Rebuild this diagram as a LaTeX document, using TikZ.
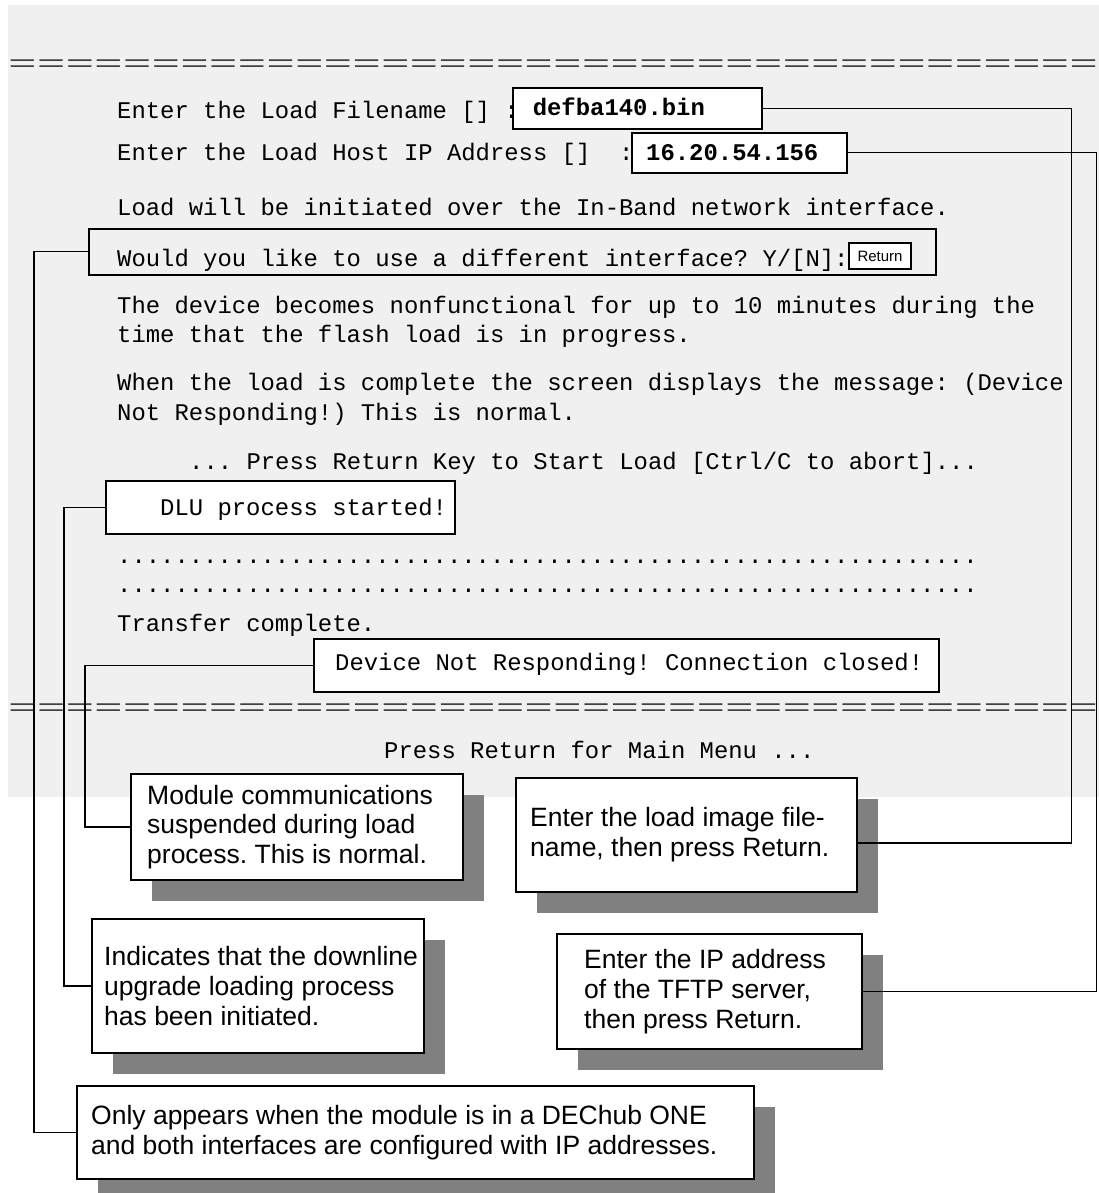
\documentclass[tikz,border=0pt]{standalone}
\usepackage{fontspec}
\usepackage{tikz}
\usetikzlibrary{positioning}
\usetikzlibrary{shadows}

\newfontfamily\termfont{Liberation Mono}
\newfontfamily\termeqfont[FakeStretch=2]{Liberation Mono}
\newfontfamily\notefont{Liberation Sans}
\definecolor{screengray}{HTML}{F0F0F0}
\definecolor{shadowgray}{HTML}{808080}
\frenchspacing

\begin{document}
\begin{tikzpicture}[x=1pt,y=-1pt,
    term/.style={anchor=base west,inner sep=0pt,font=\termfont\fontsize{23.9}{28}\selectfont},
    termbold/.style={term,font=\termfont\bfseries\fontsize{23.9}{28}\selectfont},
    eqline/.style={term,text=black!75,font=\termeqfont\fontsize{23.9}{28}\selectfont},
    valbox/.style={draw,line width=1.8pt,fill=white,inner sep=0pt,anchor=north west},
    keybox/.style={draw,line width=1.4pt,fill=white,inner sep=0pt,minimum width=62pt,minimum height=26pt,font=\notefont\fontsize{15}{18}\selectfont},
    callout/.style={draw,line width=2pt,fill=white,inner sep=0pt,anchor=north west,
                    general shadow={fill=shadowgray,shadow xshift=21pt,shadow yshift=-21pt}},
    notetext/.style={anchor=west,inner sep=0pt,align=left,font=\notefont\fontsize{26.5}{29.8}\selectfont},
    link/.style={line width=1.1pt}]
        % \draw[help lines,step=50] (0,0) grid (1099,1193);
      \useasboundingbox (0,0) rectangle (1099,1193);
      \fill[screengray] (8,5) rectangle (1099,797);

      % screen
      \node[eqline] (topeq) at (8,72) {======================================};
      \node[term] (fileprompt) at (117,119) {Enter the Load Filename [] :};
      \node[term] (ipprompt) at (117,161) {Enter the Load Host IP Address []~~:};
      \node[term] (bandmsg) at (117,215) {Load will be initiated over the In-Band network interface.};
      \node[term] (ifprompt) at (117,266) {Would you like to use a different interface? Y/[N]:};
      \node[term] (warn1) at (117,313) {The device becomes nonfunctional for up to 10 minutes during the};
      \node[term] (warn2) at (117,342) {time that the flash load is in progress.};
      \node[term] (done1) at (117,390) {When the load is complete the screen displays the message: (Device};
      \node[term] (done2) at (117,420) {Not Responding!) This is normal.};
      \node[term] (startprompt) at (189,469) {... Press Return Key to Start Load [Ctrl/C to abort]...};
      \node[term] (dots1) at (117,563) {............................................................};
      \node[term] (dots2) at (117,592) {............................................................};
      \node[term] (xfer) at (117,631) {Transfer complete.};
      \node[eqline] (boteq) at (8,715) {======================================};
      \node[term] (mainprompt) at (384,758) {Press Return for Main Menu ...};

      % entered values and messages
      \node[valbox,minimum width=249pt,minimum height=41pt] (filebox) at (512,87) {};
      \node[termbold] (fileval) at (532.6,116) {defba140.bin};
      \node[valbox,minimum width=215pt,minimum height=40pt] (ipbox) at (631,132) {};
      \node[termbold] (ipval) at (646,161) {16.20.54.156};
      \node[draw,line width=1.8pt,inner sep=0pt,anchor=north west,minimum width=847pt,minimum height=46pt] (ifbox) at (88,228) {};
      \node[keybox] (retkey) at (880,256) {Return};
      \node[valbox,minimum width=349pt,minimum height=53pt] (dlubox) at (105,480) {};
      \node[term] (dlumsg) at (160,515) {DLU process started!};
      \node[valbox,minimum width=625pt,minimum height=53pt] (devbox) at (313,638) {};
      \node[term] (devmsg) at (335,670) {Device Not Responding! Connection closed!};

      % callouts
      \node[callout,minimum width=332pt,minimum height=106pt] (modnote) at (130,773) {};
      \node[notetext] (modtext) at ([xshift=17pt]modnote.west) {Module communications\\suspended during load\\process. This is normal.};
      \node[callout,minimum width=341pt,minimum height=114pt] (imgnote) at (515,777) {};
      \node[notetext] (imgtext) at ([xshift=15pt]imgnote.west) {Enter the load image file-\\name, then press Return.};
      \node[callout,minimum width=332pt,minimum height=134pt] (indnote) at (91,918) {};
      \node[notetext] (indtext) at ([xshift=13pt]indnote.west) {Indicates that the downline\\upgrade loading process\\has been initiated.};
      \node[callout,minimum width=305pt,minimum height=115pt] (tftpnote) at (556,933) {};
      \node[notetext] (tftptext) at ([xshift=28pt]tftpnote.west) {Enter the IP address\\of the TFTP server,\\then press Return.};
      \node[callout,minimum width=677pt,minimum height=93pt] (onlynote) at (76,1085) {};
      \node[notetext] (onlytext) at ([xshift=15pt]onlynote.west) {Only appears when the module is in a DEChub ONE\\and both interfaces are configured with IP addresses.};

      \draw[link] (ifbox.west) -- ++(-54,0) |- (onlynote.west);
      \draw[link] (dlubox.west) -- ++(-41,0) |- (indnote.west);
      \draw[link] (devbox.west) -- ++(-228,0) |- (modnote.west);
      \draw[link] (filebox.east) -- ++(309,0) |- ([yshift=-8pt]imgnote.east);
      \draw[link] (ipbox.east) -- ++(249,0) |- (tftpnote.east);
\end{tikzpicture}
\end{document}
